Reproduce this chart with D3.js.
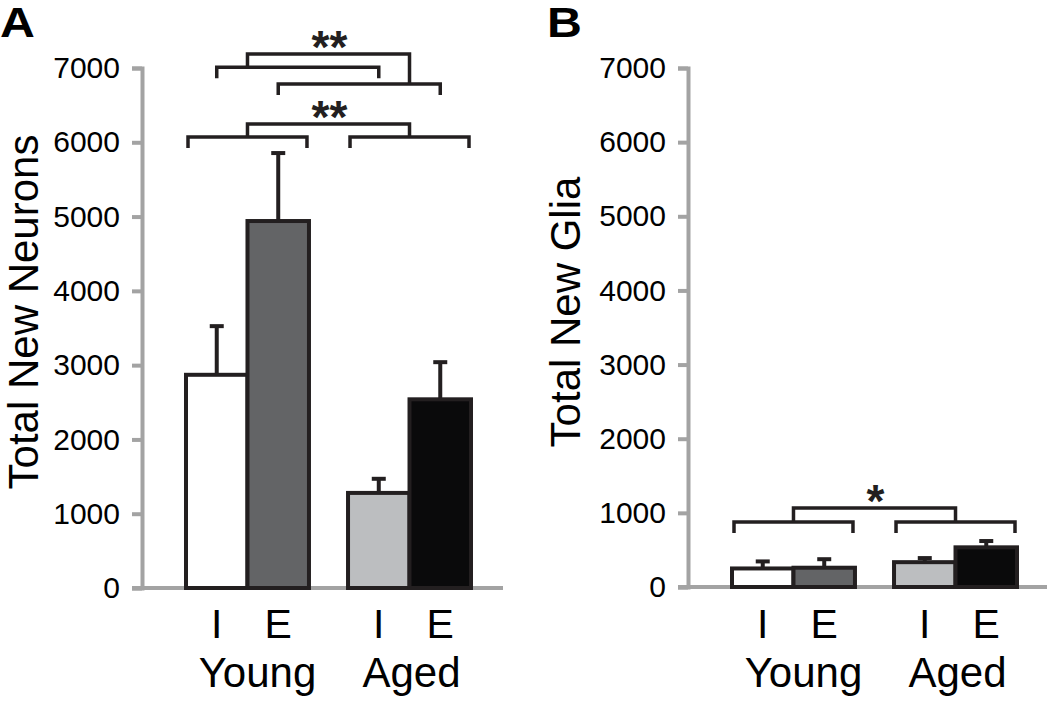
<!DOCTYPE html>
<html>
<head>
<meta charset="utf-8">
<script src="https://cdn.jsdelivr.net/npm/d3@7.9.0/dist/d3.min.js"></script>
<style>
  body { margin: 0; background: #fff; }
  svg { display: block; font-family: "Liberation Sans", Arial, Helvetica, sans-serif; }
</style>
</head>
<body>
<svg id="chart" width="1050" height="704"></svg>
<script>
// data (order: Young I, Young E, Aged I, Aged E)
const groups = ['Young', 'Aged'];
const conditions = ['I', 'E'];
const neuronMeans = [2870, 4940, 1280, 2540];
const neuronSEM = [655, 915, 190, 500];
const gliaMeans = [250, 260, 335, 535];
const gliaSEM = [95, 115, 55, 85];
const yTicks = [0, 1000, 2000, 3000, 4000, 5000, 6000, 7000];
const barColors = ['#ffffff', '#636466', '#bcbec0', '#0a0a0b'];

// significance brackets: [leftBar, rightBar] pairs joined by a connector
const neuronBrackets = [
  { legs: [[0, 2], [1, 3]], levels: [7010, 6785], top: 7190, label: '**' },
  { legs: [[0, 1], [2, 3]], levels: [6070, 6070], top: 6245, label: '**' }
];
const gliaBrackets = [
  { legs: [[0, 1], [2, 3]], levels: [877, 877], top: 1066, label: '*' }
];

const ink = '#231f20';
const axisGrey = '#a3a3a3';
const svg = d3.select('#chart');

function drawPanel(opt) {
  const g = svg.append('g');
  const y = d3.scaleLinear().domain([0, 7000]).range([opt.y0, 68]);

  // group band + condition band inside it
  const x0 = d3.scaleBand().domain(groups).range([opt.axisX + 44, opt.axisX + 329]).paddingInner(0.241);
  const x1 = d3.scaleBand().domain(conditions).range([0, x0.bandwidth()]);

  const rows = [];
  groups.forEach((grp, gi) => conditions.forEach((c, ci) => {
    const i = gi * 2 + ci;
    rows.push({ grp, c, i, mean: opt.means[i], sem: opt.sem[i] });
  }));
  const cx = d => x0(d.grp) + x1(d.c) + x1.bandwidth() / 2;
  const groupMid = i => x0(rows[i].grp) + x0.bandwidth() / 2;

  // y axis
  const yAxis = g.append('g')
    .attr('transform', `translate(${opt.axisX},0)`)
    .call(d3.axisLeft(y).tickValues(yTicks).tickFormat(d3.format('d')).tickSize(10).tickPadding(12));
  yAxis.select('.domain').attr('stroke', axisGrey).attr('stroke-width', 4);
  yAxis.selectAll('.tick line').attr('stroke', axisGrey).attr('stroke-width', 4);
  yAxis.selectAll('.tick text').attr('font-size', 30).attr('fill', '#000')
    .attr('font-family', '"Liberation Sans", Arial, sans-serif');

  // x axis baseline
  g.append('line')
    .attr('x1', opt.axisX - 10).attr('x2', opt.xEnd)
    .attr('y1', y(0)).attr('y2', y(0))
    .attr('stroke', axisGrey).attr('stroke-width', 4);

  // error bars (drawn first so bar outline covers the base)
  const eb = g.selectAll('.err').data(rows).enter().append('g');
  eb.append('line')
    .attr('x1', cx).attr('x2', cx)
    .attr('y1', d => y(d.mean)).attr('y2', d => y(d.mean + d.sem))
    .attr('stroke', ink).attr('stroke-width', 4);
  eb.append('line')
    .attr('x1', d => cx(d) - 7).attr('x2', d => cx(d) + 7)
    .attr('y1', d => y(d.mean + d.sem)).attr('y2', d => y(d.mean + d.sem))
    .attr('stroke', ink).attr('stroke-width', 4);

  // bars
  g.selectAll('.bar').data(rows).enter().append('rect')
    .attr('x', d => x0(d.grp) + x1(d.c))
    .attr('width', x1.bandwidth())
    .attr('y', d => y(d.mean))
    .attr('height', d => y(0) - y(d.mean))
    .attr('fill', d => barColors[d.i])
    .attr('stroke', ink).attr('stroke-width', 4);

  // condition labels and group labels
  g.selectAll('.cond').data(rows).enter().append('text')
    .attr('x', cx).attr('y', 638)
    .attr('text-anchor', 'middle').attr('font-size', 41)
    .text(d => d.c);
  g.selectAll('.grp').data(groups).enter().append('text')
    .attr('x', (d, i) => x0(d) + x0.bandwidth() / 2 + (i === 0 ? 10 : 2))
    .attr('y', 687)
    .attr('text-anchor', 'middle').attr('font-size', 42)
    .text(d => d);

  // significance brackets
  const barX = rows.map(cx);
  const groupEdge = i => {
    const d = rows[i];
    return d.c === 'I' ? x0(d.grp) : x0(d.grp) + x0.bandwidth();
  };
  opt.brackets.forEach(b => {
    const joins = [];
    b.legs.forEach((leg, k) => {
      // same-group legs span the group outline, cross-group legs go bar centre to bar centre
      const sameGroup = rows[leg[0]].grp === rows[leg[1]].grp;
      const xa = sameGroup ? groupEdge(leg[0]) + 2 : barX[leg[0]];
      const xb = sameGroup ? groupEdge(leg[1]) - 2 : barX[leg[1]];
      const ly = y(b.levels[k]);
      g.append('path')
        .attr('d', `M${xa},${ly + 11}V${ly}H${xb}V${ly + 11}`)
        .attr('fill', 'none').attr('stroke', ink).attr('stroke-width', 3.5);
      // connector meets each leg above the young / aged group centre
      joins.push([groupMid(k === 0 ? 0 : 2), ly]);
    });
    const ty = y(b.top);
    g.append('path')
      .attr('d', `M${joins[0][0]},${joins[0][1]}V${ty}H${joins[1][0]}V${joins[1][1]}`)
      .attr('fill', 'none').attr('stroke', ink).attr('stroke-width', 3.5);
    g.append('text')
      .attr('x', (joins[0][0] + joins[1][0]) / 2 + 1)
      .attr('y', ty + 9)
      .attr('text-anchor', 'middle').attr('font-size', 46).attr('font-weight', 'bold')
      .attr('fill', ink)
      .text(b.label);
  });

  // y title
  g.append('text')
    .attr('transform', `translate(${opt.titleX},312) rotate(-90)`)
    .attr('text-anchor', 'middle').attr('font-size', 42)
    .text(opt.title);

  // panel letter
  g.append('text')
    .attr('transform', `translate(${opt.letterX},37) scale(1.15,1)`)
    .attr('font-size', 42).attr('font-weight', 'bold')
    .text(opt.letter);
}

drawPanel({
  axisX: 142, xEnd: 503, y0: 588, means: neuronMeans, sem: neuronSEM,
  brackets: neuronBrackets, title: 'Total New Neurons', titleX: 38, letter: 'A', letterX: 0
});
drawPanel({
  axisX: 688, xEnd: 1047, y0: 587, means: gliaMeans, sem: gliaSEM,
  brackets: gliaBrackets, title: 'Total New Glia', titleX: 580, letter: 'B', letterX: 547
});
</script>
</body>
</html>
